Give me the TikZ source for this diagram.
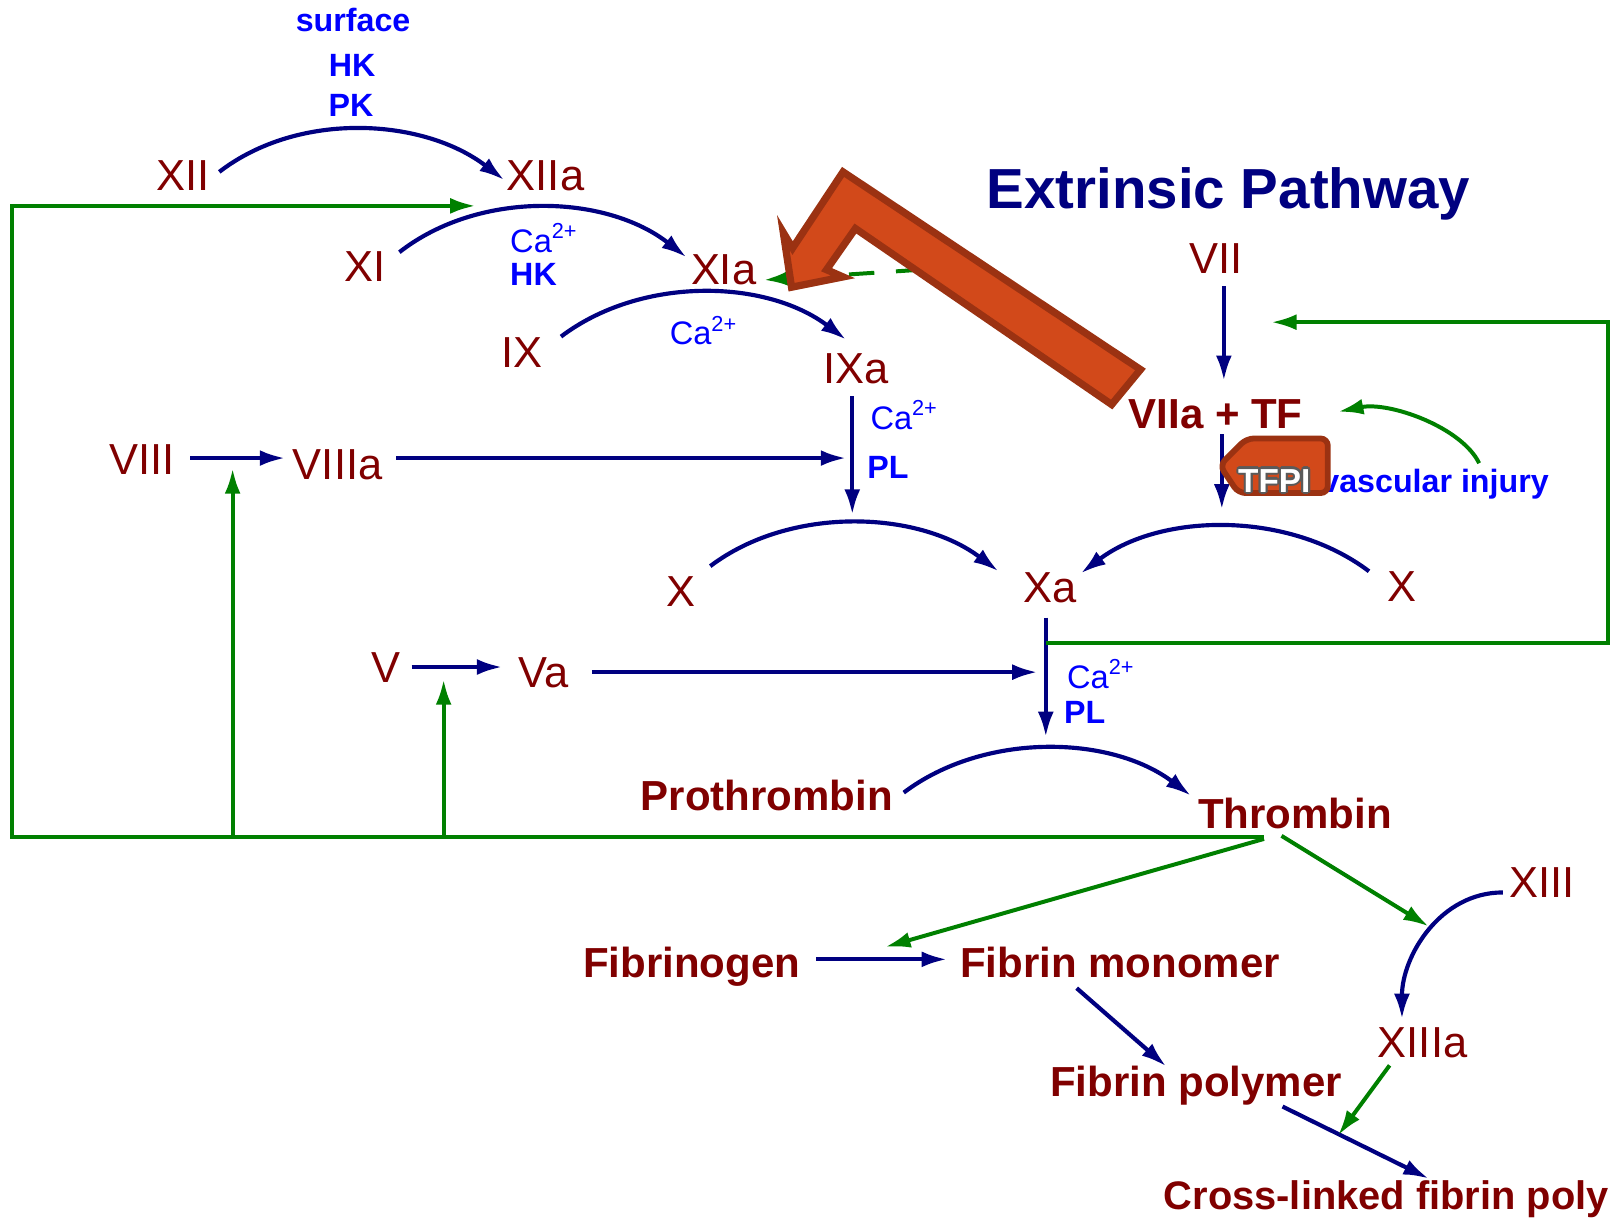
\documentclass[tikz,border=0pt]{standalone}
\usepackage{fontspec}
\setmainfont{Liberation Sans}
\usetikzlibrary{arrows.meta}
\definecolor{dred}{HTML}{800000}
\definecolor{nav}{HTML}{000080}
\definecolor{lblue}{HTML}{0000FF}
\definecolor{grn}{HTML}{008000}
\definecolor{orng}{HTML}{D2491A}
\definecolor{orngb}{HTML}{9B3212}
\definecolor{outl}{HTML}{5A5A5A}
\begin{document}
\begin{tikzpicture}[x=0.01cm,y=-0.01cm,
  fac/.style={text=dred,font=\fontsize{12}{14}\selectfont,inner sep=0pt,anchor=base},
  facb/.style={text=dred,font=\fontsize{11.6}{14}\selectfont\bfseries,inner sep=0pt,anchor=base},
  cof/.style={text=lblue,font=\fontsize{8.9}{10}\selectfont\bfseries,inner sep=0pt,anchor=base},
  caf/.style={text=lblue,font=\fontsize{9}{10}\selectfont,inner sep=0pt,anchor=base west},
  nv/.style={draw=nav,line width=1.15pt,-{Latex[length=7pt,width=4.4pt]}},
  gr/.style={draw=grn,line width=1.1pt,-{Latex[length=7pt,width=4.4pt]}},
  bigarrow/.style={fill=orng,draw=orngb,line width=2pt,line join=miter},
  tfpibox/.style={fill=orng,draw=orngb,line width=1.6pt,rounded corners=2pt},
]
\useasboundingbox (0,0) rectangle (1568,1190);
\clip (0,0) rectangle (1568,1190);

% ---------- factor labels ----------
\node[fac] (xii) at (178,185) {XII};
\node[fac] (xiia) at (530,185) {XIIa};
\node[fac] (xi) at (355,273) {XI};
\node[fac] (xia) at (703,276) {XIa};
\node[fac] (ix) at (507,357) {IX};
\node[fac] (ixa) at (832,373) {IXa};
\node[fac] (viii) at (138,461) {VIII};
\node[fac] (viiia) at (328,466) {VIIIa};
\node[fac] (xleft) at (662,589) {X};
\node[fac] (xa) at (1020,585) {Xa};
\node[fac] (xright) at (1362,584) {X};
\node[fac] (v) at (375,663) {V};
\node[fac] (va) at (528,668) {Va};
\node[fac] (vii) at (1181,266) {VII};
\node[facb] (viia) at (1181,416) {VIIa + TF};
\node[facb] (pro) at (745,787) {Prothrombin};
\node[facb] (thr) at (1258,805) {Thrombin};
\node[fac] (xiii) at (1498,872) {XIII};
\node[facb] (fgn) at (672,950) {Fibrinogen};
\node[facb] (fmono) at (1088,950) {Fibrin monomer};
\node[fac] (xiiia) at (1382,1027) {XIIIa};
\node[facb] (fpoly) at (1162,1065) {Fibrin polymer};
\node[facb,font=\fontsize{11}{13}\selectfont\bfseries,anchor=base west] (xlink) at (1130,1175) {Cross-linked fibrin poly};

% ---------- title and cofactors ----------
\node[font=\fontsize{15.6}{18}\selectfont\bfseries,text=nav,anchor=base west,inner sep=0pt] (title) at (958,203) {Extrinsic Pathway};
\node[cof] (surf) at (343,31) {surface};
\node[cof] (hka) at (342,74) {HK};
\node[cof] (pk) at (341,113) {PK};
\node[caf] (caa) at (495,245) {Ca\textsuperscript{2+}};
\node[cof,anchor=base west] (hkb) at (495,277) {HK};
\node[caf] (cab) at (650,335) {Ca\textsuperscript{2+}};
\node[caf] (cac) at (845,417) {Ca\textsuperscript{2+}};
\node[cof,anchor=base west] (pla) at (842,465) {PL};
\node[caf] (cad) at (1036,669) {Ca\textsuperscript{2+}};
\node[cof,anchor=base west] (plb) at (1033,703) {PL};
\node[cof,anchor=base west] (vasc) at (1283,478) {vascular injury};

% ---------- connector end points ----------
\coordinate (xii-o) at (213,167);   \coordinate (xiia-i) at (490,175);
\coordinate (xi-o) at (388,245);    \coordinate (xia-i) at (667,250);
\coordinate (ix-o) at (545,327);    \coordinate (ixa-i) at (822,330);
\coordinate (xl-o) at (690,550);    \coordinate (xa-il) at (970,555);
\coordinate (xr-o) at (1330,555);   \coordinate (xa-ir) at (1050,557);
\coordinate (pro-o) at (878,770);   \coordinate (thr-i) at (1157,773);
\coordinate (xiii-o) at (1460,867); \coordinate (xiiia-i) at (1362,990);
\coordinate (viii-o) at (185,445);  \coordinate (viiia-i) at (277,445);
\coordinate (viiia-o) at (385,445); \coordinate (ixl-j) at (822,445);
\coordinate (ixa-o) at (828,385);   \coordinate (ixl-e) at (828,500);
\coordinate (vii-o) at (1189,278);  \coordinate (viia-i) at (1189,370);
\coordinate (viia-o) at (1187,422); \coordinate (viia-e) at (1187,495);
\coordinate (xa-o) at (1016,600);   \coordinate (xal-e) at (1016,716);
\coordinate (v-o) at (400,648);     \coordinate (va-i) at (488,648);
\coordinate (va-o) at (575,653);    \coordinate (xal-j) at (1008,653);
\coordinate (fgn-o) at (793,932);   \coordinate (fmono-i) at (920,932);
\coordinate (fmono-o) at (1046,960);\coordinate (fpoly-i) at (1133,1036);
\coordinate (fpoly-o) at (1246,1075);\coordinate (xlink-i) at (1388,1145);
\coordinate (thr-g) at (1228,813);
\coordinate (fb-j) at (860,920);
\coordinate (thr-h) at (1245,812);  \coordinate (xiiil-j) at (1388,900);
\coordinate (xiiia-o) at (1350,1035);\coordinate (xll-j) at (1300,1103);
\coordinate (xa-g) at (1016,625);   \coordinate (viil-j) at (1235,313);
\coordinate (vasc-o) at (1437,450); \coordinate (viia-g) at (1300,400);
\coordinate (viia-d) at (895,262);  \coordinate (xia-g) at (742,272);
\coordinate (viiil-j) at (226,455); \coordinate (vl-j) at (431,660);
\coordinate (xiil-j) at (462,200);

% ---------- navy conversion arcs ----------
\draw[nv] (xii-o) .. controls (291,107) and (412,115) .. (xiia-i);
\draw[nv] (xi-o) .. controls (466,184) and (589,189) .. (xia-i);
\draw[nv] (ix-o) .. controls (623,268) and (744,271) .. (ixa-i);
\draw[nv] (xl-o) .. controls (768,491) and (892,496) .. (xa-il);
\draw[nv] (xr-o) .. controls (1252,496) and (1128,498) .. (xa-ir);
\draw[nv] (pro-o) .. controls (956,711) and (1079,714) .. (thr-i);
\draw[nv] (xiii-o) .. controls (1399,867) and (1362,929) .. (xiiia-i);

% ---------- navy straight arrows ----------
\draw[nv] (viii-o) -- (viiia-i);
\draw[nv] (viiia-o) -- (ixl-j);
\draw[nv] (ixa-o) -- (ixl-e);
\draw[nv] (vii-o) -- (viia-i);
\draw[nv] (viia-o) -- (viia-e);
\draw[nv] (xa-o) -- (xal-e);
\draw[nv] (v-o) -- (va-i);
\draw[nv] (va-o) -- (xal-j);
\draw[nv] (fgn-o) -- (fmono-i);
\draw[nv] (fmono-o) -- (fpoly-i);
\draw[nv] (fpoly-o) -- (xlink-i);

% ---------- green feedback arrows ----------
\draw[gr] (thr-g) -- (12,813) -- (12,200) -- (xiil-j);
\draw[gr] (226,813) -- (viiil-j);
\draw[gr] (431,813) -- (vl-j);
\draw[gr] (1228,815) -- (fb-j);
\draw[gr] (thr-h) -- (xiiil-j);
\draw[gr] (xiiia-o) -- (xll-j);
\draw[gr] (xa-g) -- (1562,625) -- (1562,313) -- (viil-j);
\draw[gr] (vasc-o) .. controls (1420,415) and (1350,390) .. (viia-g);
\draw[gr,dash pattern=on 7pt off 6pt] (viia-d) -- (xia-g);

% ---------- orange bent arrow (VIIa+TF to XIa) ----------
\draw[bigarrow] (1108,359) -- (819,167) -- (770,241) -- (761,226) -- (769,279)
  -- (819,269) -- (803,262) -- (831,222) -- (1080,393) -- cycle;

% ---------- TFPI tag ----------
\draw[tfpibox] (1185,452) -- (1211,426) -- (1290,426) -- (1290,479) -- (1203,479) -- cycle;
\foreach \dx/\dy in {-0.6/0,0.6/0,0/-0.6,0/0.6,-0.45/-0.45,0.45/0.45,-0.45/0.45,0.45/-0.45}
  \node[text=outl,font=\fontsize{9.2}{10}\selectfont\bfseries,inner sep=0pt,anchor=base,xshift=\dx pt,yshift=\dy pt] at (1238,478) {TFPI};
\node[text=white,font=\fontsize{9.2}{10}\selectfont\bfseries,inner sep=0pt,anchor=base] (tfpi) at (1238,478) {TFPI};
\end{tikzpicture}
\end{document}
